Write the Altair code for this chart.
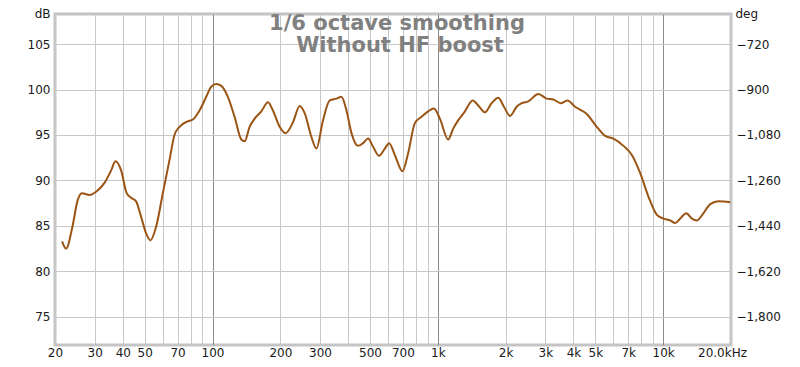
import altair as alt
import pandas as pd

# ---- data ----
freq_hz = [21.5, 22.4, 23.9, 25.2, 26.3, 28.4, 30.9, 33.1, 35.5, 37.1, 39.3, 41.6, 43.5, 45.8,
           48.2, 50.7, 53.0, 56.2, 60.2, 64.4, 67.8, 71.4, 77.7, 81.8, 87.6, 93.8, 98.7, 103.9,
           109.4, 117.0, 125.3, 134.2, 138.8, 146.1, 153.8, 164.7, 176.2, 185.4, 198.6, 211,
           227.6, 243.7, 256.5, 274.6, 289.1, 309.2, 331.3, 354.9, 373.4, 393.1, 413.8, 442.6,
           465.8, 490.3, 516, 548.7, 581.8, 607.9, 644.2, 697, 738.2, 790.8, 846.8, 905.8,
           960.2, 1021, 1111, 1170, 1231, 1319, 1427, 1527, 1618, 1733, 1854, 1965, 2090, 2238,
           2356, 2520, 2792, 3043, 3256, 3510, 3756, 4064, 4581, 5075, 5525, 6016, 6665, 7262,
           7908, 8609, 9382, 10034, 10748, 11310, 11904, 12656, 13420, 14124, 15106, 16182,
           17618, 19860]
spl_db = [83.3, 82.5, 84.9, 87.8, 88.6, 88.4, 88.9, 89.7, 91.1, 92.1, 91.1, 88.6, 88.1, 87.7,
          86.0, 84.2, 83.4, 84.9, 88.6, 92.2, 95.0, 95.9, 96.5, 96.7, 97.7, 99.2, 100.3, 100.6,
          100.4, 99.2, 97.0, 94.5, 94.3, 95.9, 96.8, 97.6, 98.6, 97.7, 95.9, 95.2,
          96.4, 98.2, 97.4, 94.8, 93.5, 96.6, 98.8, 99.0, 99.2, 97.7, 95.2, 93.8,
          94.1, 94.6, 93.7, 92.7, 93.5, 94.1, 92.8, 91.0, 93.0, 96.3, 97.0, 97.6,
          97.9, 96.8, 94.5, 95.7, 96.6, 97.6, 98.8, 98.1, 97.5, 98.5, 99.1, 98.1, 97.1, 98.1,
          98.5, 98.7, 99.5, 99.0, 98.9, 98.5, 98.8, 98.1, 97.3, 95.9, 94.9, 94.6, 93.8, 92.8,
          90.8, 88.2, 86.2, 85.8, 85.6, 85.3, 85.8, 86.4, 85.8, 85.6, 86.4, 87.4,
          87.7, 87.6]

title_lines = ["1/6 octave smoothing", "Without HF boost"]

grid_freqs = [20, 30, 40, 50, 60, 70, 80, 90,
              100, 200, 300, 400, 500, 600, 700, 800, 900,
              1000, 2000, 3000, 4000, 5000, 6000, 7000, 8000, 9000,
              10000, 20000]
decade_freqs = [100, 1000, 10000]
label_freqs = [20, 30, 40, 50, 70, 100, 200, 300, 500, 700, 1000, 2000, 3000, 4000, 5000,
               7000, 10000, 20000]
label_texts = ["20", "30", "40", "50", "70", "100", "200", "300", "500", "700", "1k", "2k",
               "3k", "4k", "5k", "7k", "10k", "20.0kHz"]

db_ticks = [75, 80, 85, 90, 95, 100, 105]
deg_ticks = [-720, -900, -1080, -1260, -1440, -1620, -1800]

db_domain = [71.89, 108.31]
# phase axis is tied to dB axis: -720 deg at 105 dB, 180 deg per 5 dB
deg_domain = [-720 + (db_domain[0] - 105) * 36, -720 + (db_domain[1] - 105) * 36]

df = pd.DataFrame({"freq": freq_hz, "spl": spl_db})
df["deg"] = -720 + (df["spl"] - 105) * 36

FONT = "DejaVu Sans"
TXT = "#1a1a1a"

label_expr = ""
for f, t in zip(label_freqs, label_texts):
    label_expr += f"datum.value == {f} ? '{t}' : "
label_expr += "''"
decade_test = " || ".join(f"datum.value == {f}" for f in decade_freqs)

x_scale = alt.Scale(type="log", domain=[20, 20000], nice=False)


def x_enc():
    return alt.X(
        "freq:Q",
        scale=x_scale,
        axis=alt.Axis(
            values=grid_freqs,
            labelExpr=label_expr,
            labelOverlap=False,
            labelFlush=False,
            labelBound=False,
            ticks=False,
            domain=False,
            grid=True,
            gridColor={"condition": {"test": decade_test, "value": "#8c8c8c"}, "value": "#c8c8c8"},
            gridWidth=1,
            labelPadding=2,
            labelFont=FONT,
            labelFontSize=12,
            labelColor=TXT,
            labelOffset={"condition": {"test": "datum.value == 20000", "value": -9}, "value": 0},
            title=None,
        ),
    )


curve = alt.Chart(df).mark_line(
    interpolate="monotone", color="#9a5514", strokeWidth=2
).encode(
    x=x_enc(),
    y=alt.Y(
        "spl:Q",
        scale=alt.Scale(domain=db_domain, nice=False, zero=False),
        axis=alt.Axis(
            values=db_ticks,
            ticks=False,
            domain=False,
            grid=True,
            gridColor="#c8c8c8",
            labelPadding=5,
            labelFont=FONT,
            labelFontSize=12,
            labelColor=TXT,
            title="dB",
            titleAngle=0,
            titleX=-5,
            titleY=3,
            titleAlign="right",
            titleBaseline="alphabetic",
            titleFont=FONT,
            titleFontSize=12,
            titleFontWeight="normal",
            titleColor=TXT,
        ),
    ),
)

phase_axis = alt.Chart(df).mark_line(strokeOpacity=0).encode(
    x=x_enc(),
    y=alt.Y(
        "deg:Q",
        scale=alt.Scale(domain=deg_domain, nice=False, zero=False),
        axis=alt.Axis(
            orient="right",
            values=deg_ticks,
            labelExpr="format(datum.value, ',.0f')",
            ticks=False,
            domain=False,
            grid=False,
            labelPadding=5,
            labelFont=FONT,
            labelFontSize=12,
            labelColor=TXT,
            title="deg",
            titleAngle=0,
            titleX=4,
            titleY=3,
            titleAlign="left",
            titleBaseline="alphabetic",
            titleFont=FONT,
            titleFontSize=12,
            titleFontWeight="normal",
            titleColor=TXT,
        ),
    ),
)

title1 = alt.Chart(pd.DataFrame({"t": [title_lines[0]]})).mark_text(
    font=FONT, fontSize=21, fontWeight="bold", color="#808080", align="center",
    baseline="alphabetic"
).encode(text="t:N", x=alt.value(342), y=alt.value(16))

title2 = alt.Chart(pd.DataFrame({"t": [title_lines[1]]})).mark_text(
    font=FONT, fontSize=21, fontWeight="bold", color="#808080", align="center",
    baseline="alphabetic"
).encode(text="t:N", x=alt.value(345), y=alt.value(37.5))

chart = alt.layer(curve, phase_axis, title1, title2).resolve_scale(
    y="independent"
).properties(
    width=676,
    height=331,
    autosize=alt.AutoSizeParams(type="none"),
    padding={"left": 47, "top": 6, "right": 61, "bottom": 14},
    background="white",
).configure_view(
    stroke="#c4c4c4", strokeWidth=3
)

chart.save("out.html", embed_options={"renderer": "svg", "actions": False})
